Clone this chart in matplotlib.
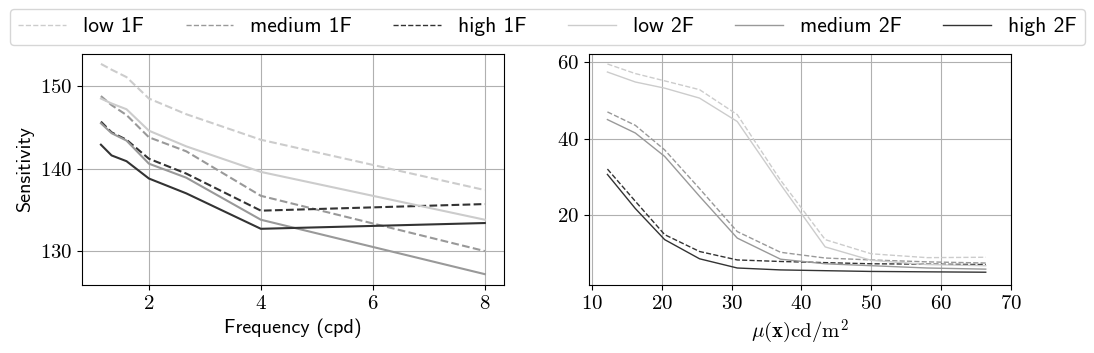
import numpy as np
import matplotlib
matplotlib.use("Agg")
import matplotlib.pyplot as plt

plt.rcParams['mathtext.fontset'] = 'cm'
plt.rcParams['axes.formatter.use_mathtext'] = True
plt.rcParams['axes.unicode_minus'] = False

# frequency panel
freq = [8/7, 8/6, 8/5, 2, 8/3, 4, 8]
sens_low_1f = [152.7, 152.0, 151.1, 148.5, 146.6, 143.5, 137.4]
sens_med_1f = [148.8, 147.7, 146.5, 143.8, 142.1, 136.7, 130.0]
sens_high_1f = [145.7, 144.4, 143.5, 141.2, 139.4, 134.9, 135.7]
sens_low_2f = [148.5, 147.9, 147.2, 144.6, 142.7, 139.6, 133.8]
sens_med_2f = [145.5, 144.3, 143.4, 140.6, 138.9, 133.8, 127.2]
sens_high_2f = [142.9, 141.6, 140.9, 138.8, 137.0, 132.7, 133.4]

# luminance panel
lum = [12.2, 16.2, 20.4, 25.4, 30.8, 37.0, 43.4, 50.0, 58.0, 66.4]
lum_low_1f = [59.5, 57.0, 55.1, 52.8, 46.3, 29.2, 13.7, 10.0, 9.0, 9.1]
lum_med_1f = [47.0, 43.5, 37.1, 27.0, 15.8, 10.4, 8.9, 8.4, 7.9, 7.6]
lum_high_1f = [32.1, 23.7, 15.0, 10.6, 8.4, 8.0, 7.7, 7.4, 7.3, 7.2]
lum_low_2f = [57.4, 54.8, 53.2, 50.6, 44.5, 28.1, 11.8, 8.3, 7.2, 6.9]
lum_med_2f = [45.0, 41.5, 35.4, 25.0, 14.1, 8.6, 7.4, 6.9, 6.3, 6.0]
lum_high_2f = [30.7, 21.8, 13.7, 8.7, 6.3, 5.8, 5.6, 5.4, 5.3, 5.2]

labels = ['low 1F', 'medium 1F', 'high 1F', 'low 2F', 'medium 2F', 'high 2F']
colors = ['0.8', '0.6', '0.2', '0.8', '0.6', '0.2']
styles = ['--', '--', '--', '-', '-', '-']

fig = plt.figure(figsize=(10.94, 3.53), dpi=100)
ax1 = fig.add_axes([0.0747, 0.193, 0.386, 0.654])
ax2 = fig.add_axes([0.538, 0.193, 0.386, 0.654])

left_series = [sens_low_1f, sens_med_1f, sens_high_1f, sens_low_2f, sens_med_2f, sens_high_2f]
right_series = [lum_low_1f, lum_med_1f, lum_high_1f, lum_low_2f, lum_med_2f, lum_high_2f]

handles = []
for ys, c, ls in zip(left_series, colors, styles):
    ax1.plot(freq, ys, color=c, linestyle=ls, linewidth=1.5)
for ys, c, ls, lab in zip(right_series, colors, styles, labels):
    h, = ax2.plot(lum, ys, color=c, linestyle=ls, linewidth=1.0, label=lab)
    handles.append(h)

sans = 'cmss10'
ax1.set_xlabel('Frequency (cpd)', family=sans, fontsize=14.5)
ax1.set_ylabel('Sensitivity', family=sans, fontsize=14.5)
ax2.set_xlabel(r'$\mu(\mathbf{x})\mathrm{cd}/\mathrm{m}^2$', fontsize=15)

ax1.set_xticks([2, 4, 6, 8])
ax1.set_yticks([130, 140, 150])
ax1.set_ylim(125.9, 153.9)
ax2.set_xticks([10, 20, 30, 40, 50, 60, 70])
ax2.set_yticks([20, 40, 60])
ax2.set_xlim(9.5, 70)
ax2.set_ylim(1.9, 62.1)

for ax in (ax1, ax2):
    ax.grid(True, color='#b0b0b0', linewidth=0.8)
    ax.set_axisbelow(True)
    for t in ax.get_xticklabels() + ax.get_yticklabels():
        t.set_family('cmr10')
        t.set_fontsize(15)

fig.legend(handles, labels, loc='lower left', ncol=6, mode='expand',
           bbox_to_anchor=(0.009, 0.873, 0.983, 0.11), prop={'family': sans, 'size': 15.5},
           handlelength=2.2, borderaxespad=0.0)

fig.savefig('out.png', dpi=100)
